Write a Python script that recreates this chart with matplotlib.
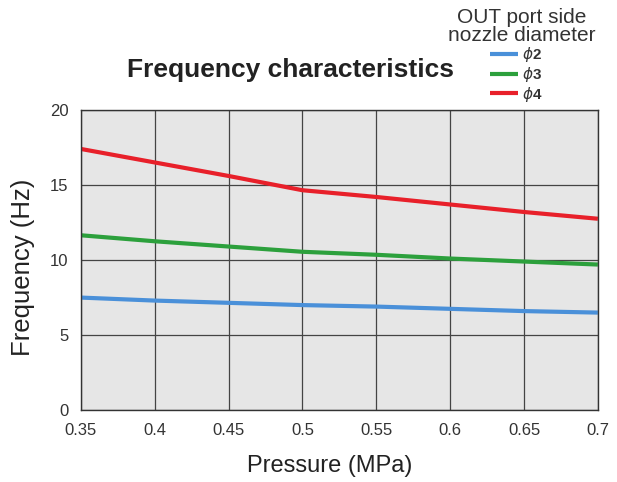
import matplotlib
matplotlib.use('Agg')
from matplotlib import pyplot as plt

plt.rcParams['font.family'] = ['Liberation Sans', 'DejaVu Sans']

pressure = [0.35, 0.4, 0.45, 0.5, 0.55, 0.6, 0.65, 0.7]
freq_phi2 = [7.5, 7.3, 7.15, 7.0, 6.9, 6.75, 6.6, 6.5]
freq_phi3 = [11.65, 11.25, 10.9, 10.55, 10.35, 10.1, 9.9, 9.7]
freq_phi4 = [17.4, 16.5, 15.6, 14.65, 14.2, 13.7, 13.2, 12.75]
labels = [r'$\phi$2', r'$\phi$3', r'$\phi$4']
colors = ['#4a90d9', '#2ca03c', '#e8202a']

fig = plt.figure(figsize=(6.17, 4.82), dpi=100)
ax = fig.add_axes([0.131, 0.149, 0.838, 0.623])
ax.set_facecolor('#e6e6e6')

for y, lab, c in zip([freq_phi2, freq_phi3, freq_phi4], labels, colors):
    ax.plot(pressure, y, c=c, lw=3, label=lab, solid_capstyle='butt')

ax.set_xlim(0.35, 0.7)
ax.set_ylim(0, 20)
ax.set_xticks(pressure)
ax.set_xticklabels(['0.35', '0.4', '0.45', '0.5', '0.55', '0.6', '0.65', '0.7'])
ax.set_yticks([0, 5, 10, 15, 20])
ax.tick_params(length=0, labelsize=12, colors='#333333', pad=9)
ax.grid(True, color='#444444', lw=0.9)
ax.set_axisbelow(True)
for s in ax.spines.values():
    s.set_color('#333333')
    s.set_linewidth(1)

ax.set_xlabel('Pressure (MPa)', fontsize=17, color='#222222')
ax.xaxis.set_label_coords(0.482, -0.148)
ax.set_ylabel('Frequency (Hz)', fontsize=18.5, color='#222222')
ax.yaxis.set_label_coords(-0.089, 0.477)

fig.text(0.471, 0.855, 'Frequency characteristics', fontsize=19, fontweight='bold',
         ha='center', va='center', color='#222222')
fig.text(0.846, 0.963, 'OUT port side', fontsize=15, ha='center', va='center', color='#333333')
fig.text(0.846, 0.926, 'nozzle diameter', fontsize=15, ha='center', va='center', color='#333333')

leg = ax.legend(loc='upper left', bbox_to_anchor=(0.782, 0.922), bbox_transform=fig.transFigure,
                frameon=False, fontsize=11, handlelength=1.8, handletextpad=0.3,
                labelspacing=0.05, borderpad=0)
for t in leg.get_texts():
    t.set_color('#333333')
    t.set_fontweight('bold')

plt.savefig('out.png', dpi=100)
